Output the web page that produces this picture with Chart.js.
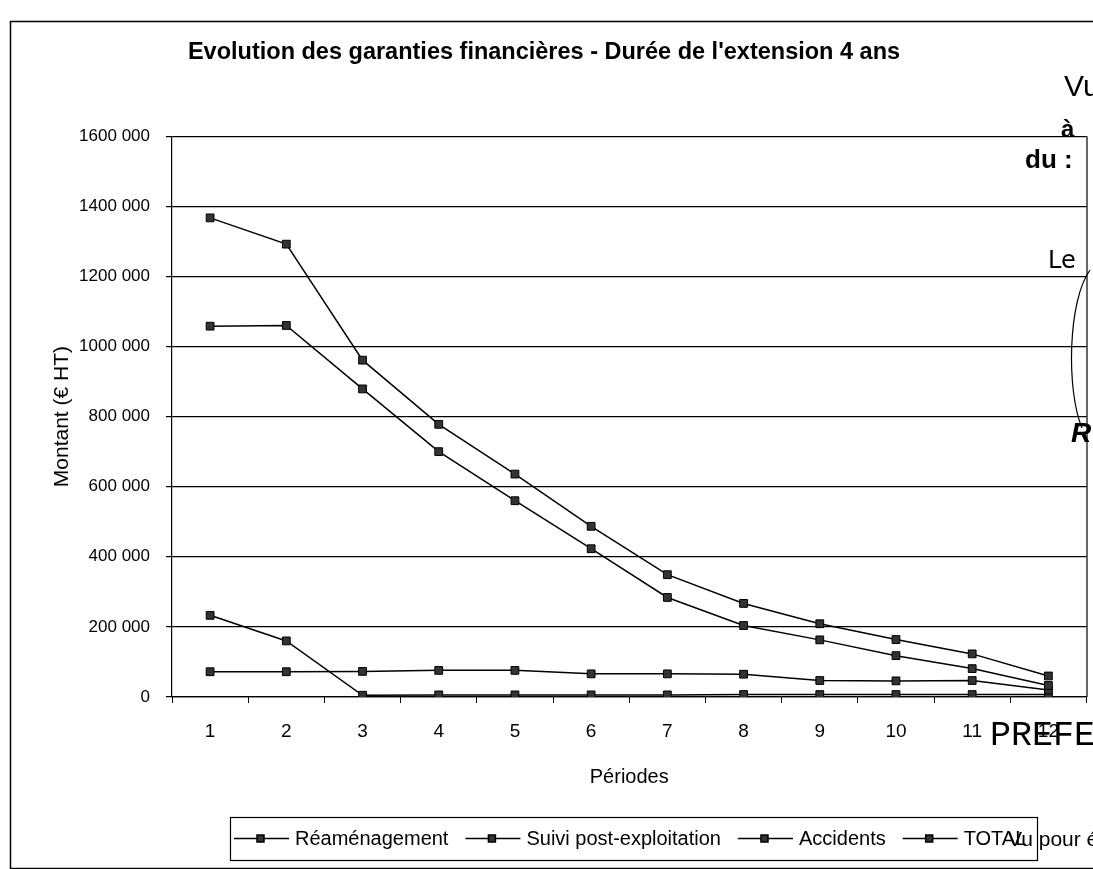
<!DOCTYPE html>
<html>
<head>
<meta charset="utf-8">
<script src="https://cdn.jsdelivr.net/npm/chart.js@4.4.1/dist/chart.umd.min.js"></script>
<style>
  html, body { margin: 0; padding: 0; background: #fff; }
  #wrap { width: 1093px; height: 869px; position: relative; }
</style>
</head>
<body>
<div id="wrap"><canvas id="graphe" width="1093" height="869"></canvas></div>
<script>
/* ===== données ===== */
const periodes = ["1", "2", "3", "4", "5", "6", "7", "8", "9", "10", "11", "12"];
const reamenagement = [1058000, 1060000, 879000, 700000, 560000, 423000, 284000, 204000, 163000, 118000, 81000, 33000];
const suiviPost = [72000, 72000, 73000, 76000, 76000, 66000, 66000, 65000, 47000, 46000, 47000, 20000];
const accidents = [233000, 160000, 5000, 6000, 6000, 6000, 6000, 7000, 7000, 7000, 7000, 7000];
const total = [1367000, 1292000, 961000, 778000, 636000, 487000, 349000, 267000, 209000, 164000, 123000, 60000];
const yTicks = [0, 200000, 400000, 600000, 800000, 1000000, 1200000, 1400000, 1600000];

const FONT = "'Liberation Sans', Arial, sans-serif";

function serie(label, data) {
    return {
        label: label,
        data: data,
        borderColor: "#000",
        borderWidth: 1.5,
        pointStyle: "rect",
        pointRadius: 5.5,
        pointBackgroundColor: "#333",
        pointBorderColor: "#000",
        pointBorderWidth: 1,
        tension: 0,
        fill: false
    };
}

/* cadre, légende encadrée et tampons scannés */
const decor = {
    id: "decor",
    afterDraw(chart) {
        const ctx = chart.ctx;
        const a = chart.chartArea;
        ctx.save();
        ctx.strokeStyle = "#000";
        ctx.fillStyle = "#000";

        // bord droit de la zone de tracé
        ctx.lineWidth = 1.2;
        ctx.beginPath();
        ctx.moveTo(a.right + 0.5, a.top);
        ctx.lineTo(a.right + 0.5, a.bottom);
        ctx.stroke();

        // cadre extérieur
        ctx.lineWidth = 1.5;
        ctx.strokeRect(10.5, 21.5, 1100, 847);

        // légende
        const lx = 230, ly = 817, lw = 807, lh = 43;
        ctx.lineWidth = 1.2;
        ctx.strokeRect(lx + 0.5, ly + 0.5, lw, lh);
        ctx.font = "20px " + FONT;
        ctx.textBaseline = "middle";
        let x = lx + 4;
        const cy = ly + lh / 2;
        chart.data.datasets.forEach(ds => {
            ctx.lineWidth = 1.5;
            ctx.beginPath();
            ctx.moveTo(x, cy);
            ctx.lineTo(x + 55, cy);
            ctx.stroke();
            ctx.fillStyle = "#333";
            ctx.fillRect(x + 23, cy - 3.5, 7, 7);
            ctx.strokeRect(x + 23, cy - 3.5, 7, 7);
            ctx.fillStyle = "#000";
            ctx.fillText(ds.label, x + 61, cy + 1);
            x += 61 + ctx.measureText(ds.label).width + 17;
        });

        // tampons
        ctx.textBaseline = "alphabetic";
        ctx.font = "30px " + FONT;
        ctx.fillText("Vu", 1064, 96);
        ctx.font = "bold 24px " + FONT;
        ctx.fillText("à", 1061, 137);
        ctx.font = "bold 26px " + FONT;
        ctx.fillText("du :", 1025, 168);
        ctx.font = "24px 'DejaVu Sans', sans-serif";
        ctx.fillText("Le", 1048, 268);
        ctx.font = "italic bold 28px " + FONT;
        ctx.fillText("R", 1071, 442);
        ctx.lineWidth = 1.2;
        ctx.beginPath();
        ctx.moveTo(1090, 270);
        ctx.bezierCurveTo(1068, 300, 1066, 390, 1082, 428);
        ctx.stroke();
        ctx.font = "35px 'Liberation Mono', monospace";
        ctx.fillText("PREFE", 990, 745);
        ctx.font = "21px " + FONT;
        ctx.fillText("Vu pour é", 1008, 846);
        ctx.restore();
    }
};

new Chart(document.getElementById("graphe"), {
    type: "line",
    data: {
        labels: periodes,
        datasets: [
            serie("Réaménagement", reamenagement),
            serie("Suivi post-exploitation", suiviPost),
            serie("Accidents", accidents),
            serie("TOTAL", total)
        ]
    },
    options: {
        responsive: false,
        animation: false,
        layout: { padding: { left: 0, right: 5, top: 0, bottom: 80 } },
        plugins: {
            legend: { display: false },
            tooltip: { enabled: false },
            title: {
                display: true,
                text: "Evolution des garanties financières - Durée de l'extension 4 ans",
                color: "#000",
                font: { family: FONT, size: 23.5, weight: "bold" },
                padding: { top: 38, bottom: 70 }
            }
        },
        scales: {
            x: {
                offset: true,
                afterFit(axis) { axis.height = 92; },
                grid: {
                    offset: true,
                    drawOnChartArea: false,
                    drawTicks: true,
                    tickLength: 6,
                    color: "#000"
                },
                border: { display: true, color: "#000", width: 1.2 },
                ticks: {
                    color: "#000",
                    padding: 17,
                    maxRotation: 0,
                    font: { family: FONT, size: 19 }
                },
                title: {
                    display: true,
                    text: "Périodes",
                    color: "#000",
                    font: { family: FONT, size: 20 },
                    padding: { top: 0, bottom: 0 }
                }
            },
            y: {
                min: yTicks[0],
                max: yTicks[yTicks.length - 1],
                afterFit(axis) { axis.width = 172; },
                afterBuildTicks(axis) { axis.ticks = yTicks.map(v => ({ value: v })); },
                grid: {
                    color: "#000",
                    lineWidth: 1.2,
                    drawTicks: true,
                    tickLength: 6
                },
                border: { display: true, color: "#000", width: 1.2 },
                ticks: {
                    color: "#000",
                    padding: 16,
                    font: { family: FONT, size: 17 },
                    callback: v => v === 0 ? "0" : (v / 1000) + " 000"
                },
                title: {
                    display: true,
                    text: "Montant (€ HT)",
                    color: "#000",
                    font: { family: FONT, size: 21 },
                    padding: { top: 50, bottom: 0 }
                }
            }
        }
    },
    plugins: [decor]
});
</script>
</body>
</html>
